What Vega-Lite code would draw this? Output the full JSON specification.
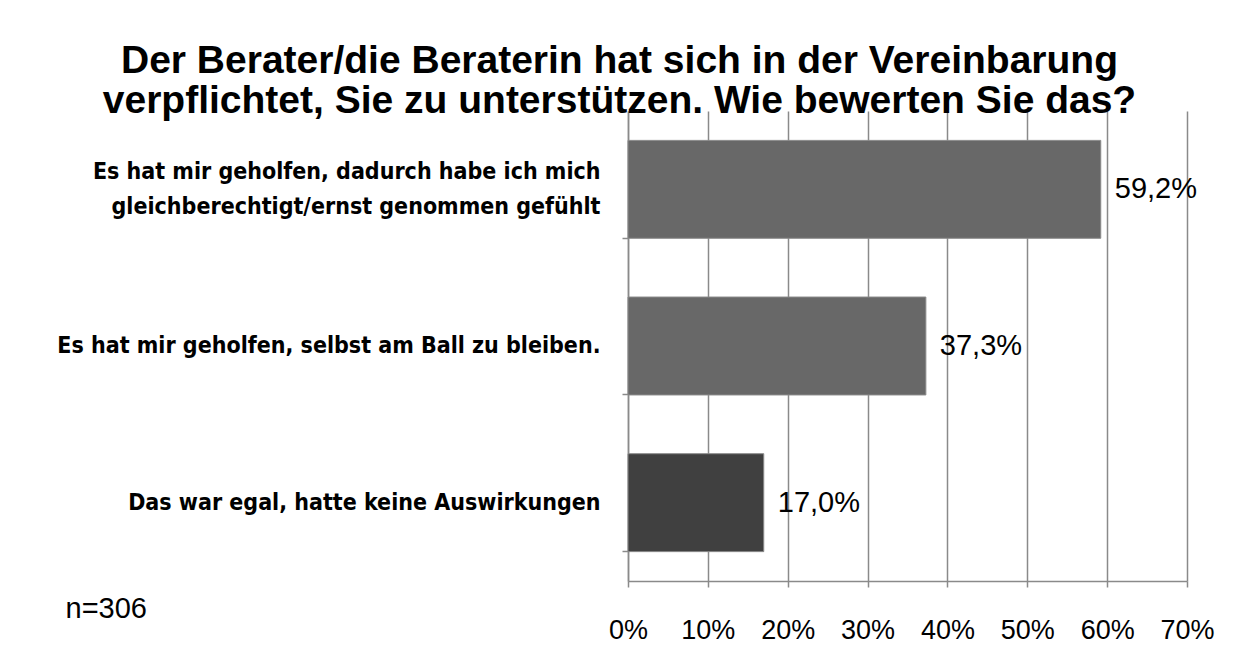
{
  "$schema": "https://vega.github.io/schema/vega-lite/v6.json",
  "autosize": {"type": "none"},
  "width": 559,
  "height": 470,
  "padding": {"left": 628, "top": 111, "right": 49, "bottom": 73},
  "background": "white",
  "config": {
    "locale": {"number": {"decimal": ",", "thousands": ".", "grouping": [3], "currency": ["", " €"]}},
    "view": {"stroke": null},
    "font": "Liberation Sans"
  },
  "title": {
    "text": ["Der Berater/die Beraterin hat sich in der Vereinbarung", "verpflichtet, Sie zu unterstützen. Wie bewerten Sie das?"],
    "font": "Liberation Sans",
    "fontSize": 39,
    "fontWeight": "bold",
    "color": "black",
    "lineHeight": 40,
    "anchor": "middle",
    "frame": "group",
    "dx": -288,
    "offset": 0,
    "dy": 10
  },
  "data": {
    "values": [
      {"kategorie": "Es hat mir geholfen, dadurch habe ich mich|gleichberechtigt/ernst genommen gefühlt", "anteil": 0.592, "gruppe": "a"},
      {"kategorie": "Es hat mir geholfen, selbst am Ball zu bleiben.", "anteil": 0.373, "gruppe": "a"},
      {"kategorie": "Das war egal, hatte keine Auswirkungen", "anteil": 0.170, "gruppe": "b"}
    ]
  },
  "encoding": {
    "y": {
      "field": "kategorie",
      "type": "nominal",
      "sort": null,
      "scale": {"paddingInner": 0.375, "paddingOuter": 0.1875},
      "axis": {
        "title": null,
        "labelExpr": "split(datum.label, '|')",
        "labelFont": "Liberation Sans Narrow, DejaVu Sans Condensed, Liberation Sans",
        "labelFontWeight": "bold",
        "labelFontSize": 23,
        "labelLineHeight": 35,
        "labelColor": "black",
        "labelPadding": 22,
        "labelLimit": 700,
        "labelOffset": {"condition": {"test": "indexof(datum.value, '|') >= 0", "value": -17}, "value": 0},
        "bandPosition": 1,
        "tickSize": 6,
        "tickColor": "#8a8a8a",
        "tickWidth": 1.5,
        "domainColor": "#8a8a8a",
        "domainWidth": 1.5,
        "grid": false
      }
    },
    "x": {
      "field": "anteil",
      "type": "quantitative",
      "scale": {"domain": [0, 0.7], "nice": false},
      "axis": {
        "values": [0, 0.1, 0.2, 0.3, 0.4, 0.5, 0.6, 0.7],
        "format": ".0%",
        "labelFontSize": 27,
        "labelColor": "black",
        "labelPadding": 30,
        "labelBaseline": "top",
        "labelOverlap": false,
        "labelFlush": false,
        "tickSize": 6,
        "tickColor": "#8a8a8a",
        "tickWidth": 1.5,
        "domainColor": "#8a8a8a",
        "domainWidth": 1.5,
        "grid": true,
        "gridColor": "#8a8a8a",
        "gridWidth": 1.5,
        "title": "n=306",
        "titleFont": "Liberation Sans",
        "titleFontSize": 29,
        "titleFontWeight": "normal",
        "titleColor": "black",
        "titleAnchor": "start",
        "titleAlign": "left",
        "titleBaseline": "alphabetic",
        "titleX": -563,
        "titleY": 36
      }
    }
  },
  "layer": [
    {
      "mark": {"type": "bar", "stroke": "#8a8a8a", "strokeWidth": 1},
      "encoding": {
        "color": {
          "field": "gruppe",
          "type": "nominal",
          "scale": {"domain": ["a", "b"], "range": ["#686868", "#404040"]},
          "legend": null
        }
      }
    },
    {
      "mark": {"type": "text", "align": "left", "baseline": "middle", "dx": 14, "fontSize": 29, "color": "black", "font": "Liberation Sans"},
      "encoding": {
        "text": {"field": "anteil", "type": "quantitative", "format": ".1%"}
      }
    }
  ]
}
